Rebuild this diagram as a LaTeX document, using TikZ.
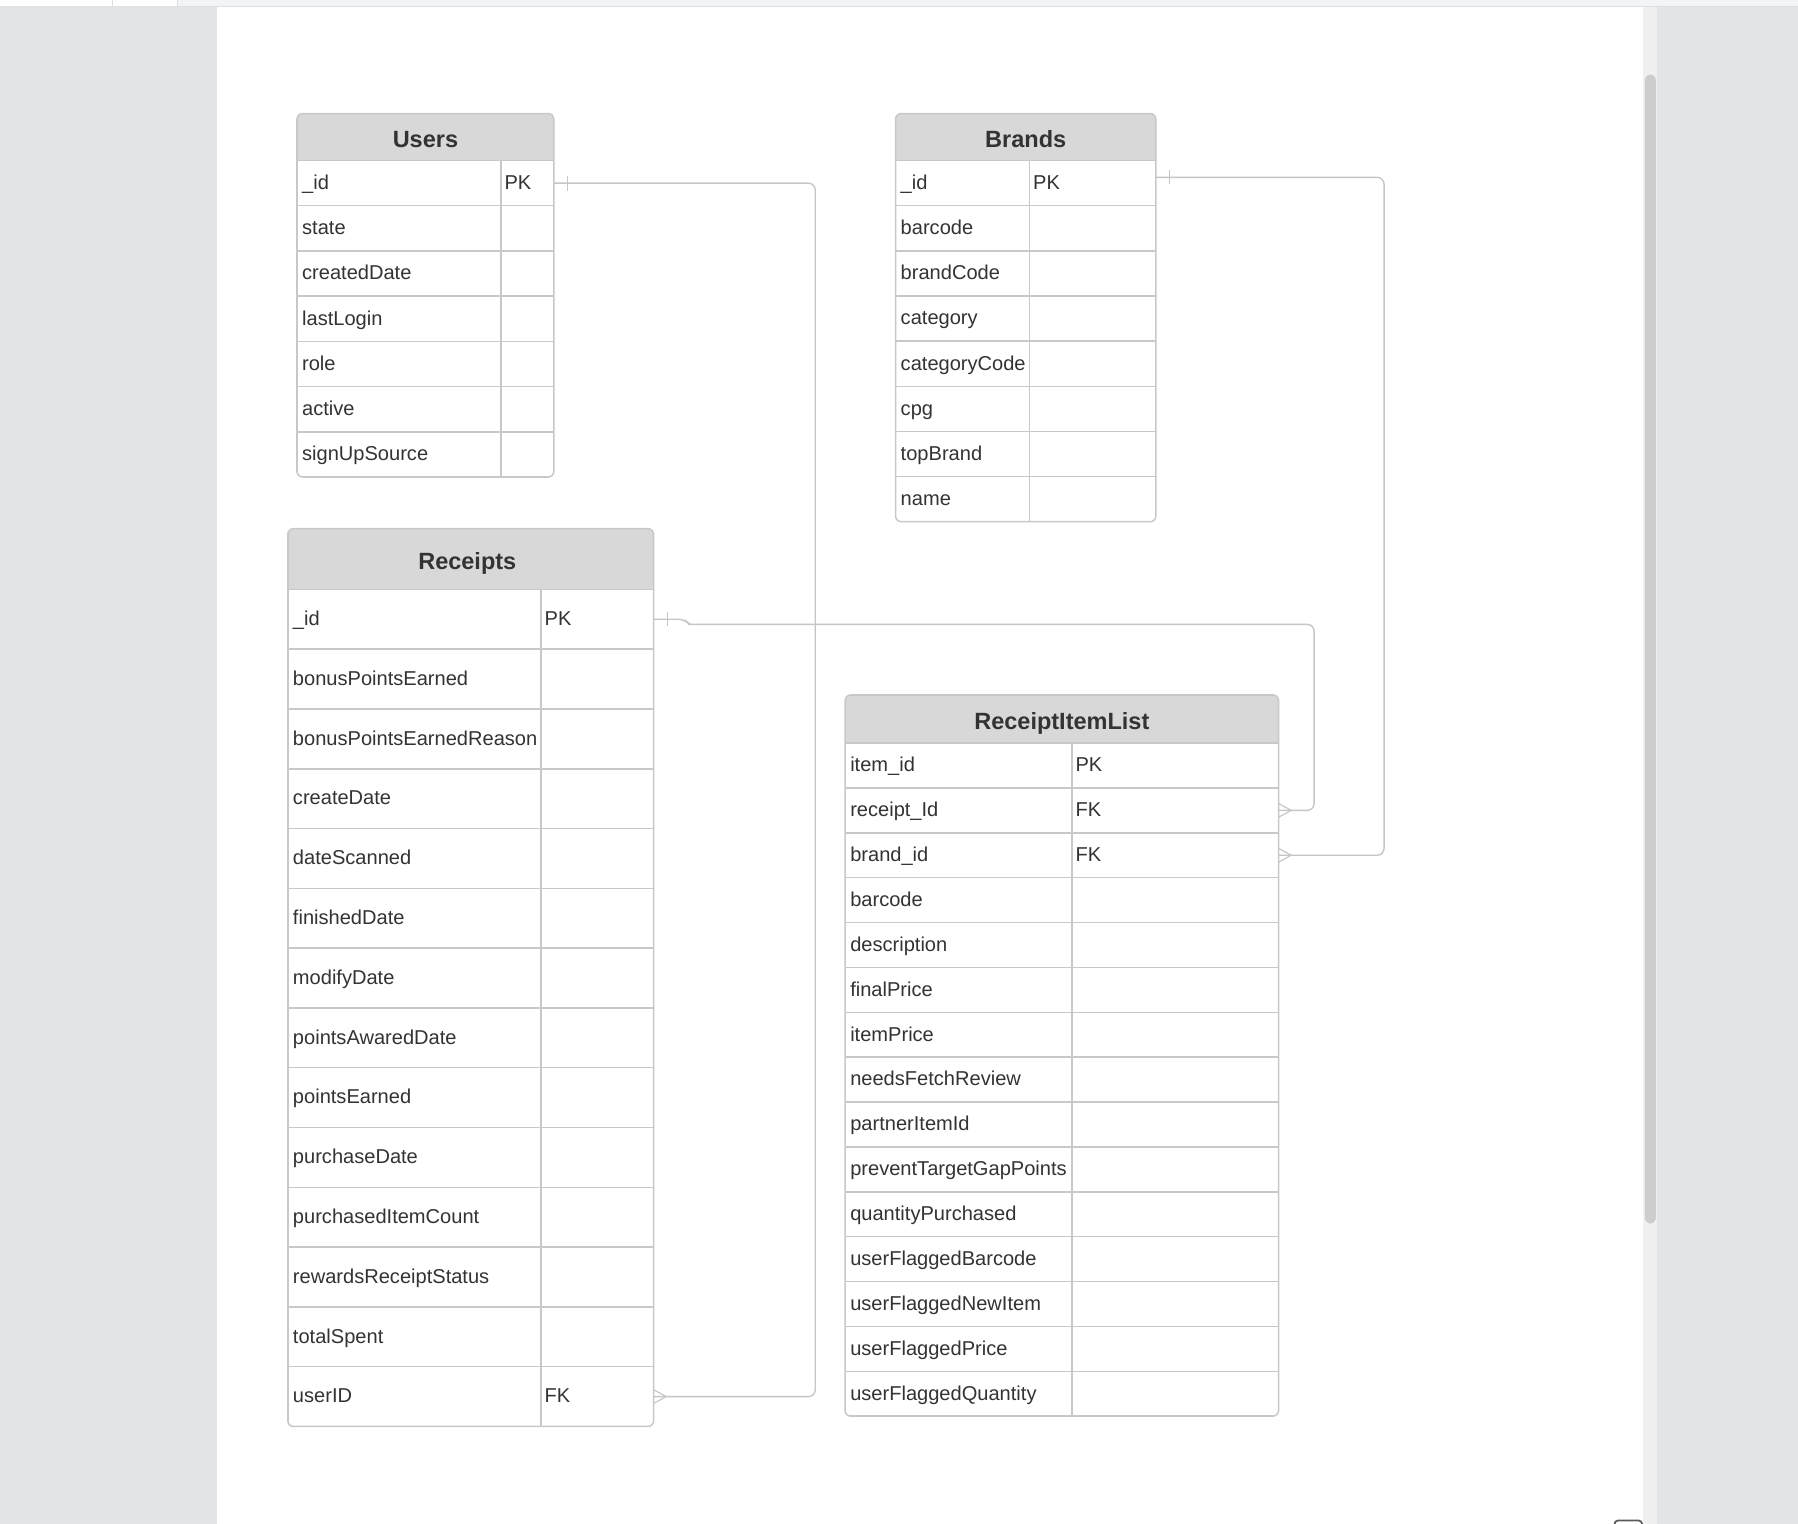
\documentclass[tikz,border=0pt]{standalone}
\usepackage{fontspec}
\setmainfont{Liberation Sans}
\definecolor{panelgray}{HTML}{E3E4E6}
\definecolor{stripgray}{HTML}{F3F4F6}
\definecolor{stripline}{HTML}{DEDFE1}
\definecolor{trackgray}{HTML}{F0F0F0}
\definecolor{thumbgray}{HTML}{CDCDCD}
\definecolor{gridgray}{HTML}{C8C8C8}
\definecolor{headgray}{HTML}{D8D8D8}
\definecolor{inkgray}{HTML}{333333}
\definecolor{linkgray}{HTML}{C6C6C6}
\newcommand{\erfieldfont}{\fontsize{17.5}{21}\selectfont\hyphenpenalty=10000 }
\newcommand{\erheadfont}{\fontsize{20.5}{24}\selectfont\bfseries}
\tikzset{
  headcell/.style={draw=gridgray, line width=1.3pt, fill=headgray, anchor=north west, outer sep=0pt, inner sep=0pt, text height=18pt, text depth=0.5pt, font=\erheadfont, text=inkgray},
  fieldcell/.style={draw=gridgray, line width=1.3pt, fill=white, anchor=north west, outer sep=0pt, inner xsep=4.5pt, inner ysep=0pt, text width=#1, align=left, text height=14pt, text depth=3pt, font=\erfieldfont, text=inkgray},
  keycell/.style={fieldcell=#1, inner xsep=3pt},
  tableframe/.style={draw=gridgray, line width=1.3pt, rounded corners=5pt},
  relline/.style={draw=linkgray, line width=1.2pt, rounded corners=6pt},
  tickline/.style={draw=linkgray, line width=1pt}
}
\begin{document}
\begin{tikzpicture}[x=1pt, y=-1pt,
  usersfield/.style={fieldcell=169pt, minimum height=39.43pt},
  userskey/.style={keycell=40pt, minimum height=39.43pt},
  brandsfield/.style={fieldcell=108pt, minimum height=39.375pt},
  brandskey/.style={keycell=104pt, minimum height=39.375pt},
  receiptsfield/.style={fieldcell=212pt, minimum height=52.14pt},
  receiptskey/.style={keycell=92pt, minimum height=52.14pt},
  itemsfield/.style={fieldcell=189pt, minimum height=39.13pt},
  itemskey/.style={keycell=174pt, minimum height=39.13pt}]
\useasboundingbox (0,0) rectangle (1568,1329);
% page, toolbar and scroll bar
\fill[panelgray] (0,0) rectangle (1568,1329);
\fill[white] (189,6) rectangle (1433,1329);
\fill[trackgray] (1433,6) rectangle (1445,1329);
\fill[thumbgray, rounded corners=5pt] (1434.5,65) rectangle (1444,1067);
\fill[white] (0,0) rectangle (155,5.5);
\fill[stripgray] (155,0) rectangle (1568,5.5);
\draw[stripline, line width=1.2pt] (0,5.8) -- (1568,5.8);
\draw[stripline, line width=1pt] (98,0) -- (98,5.5);
\draw[stripline, line width=1pt] (155,0) -- (155,5.5);
\draw[black!65, line width=1.5pt, rounded corners=3pt] (1408,1326) rectangle (1432,1345);

% Users
\begin{scope}
\clip[rounded corners=5pt] (259,99) rectangle (483,416);
\node[headcell, minimum width=224pt, minimum height=41pt] (users) at (259,99) {Users};
\node[usersfield] (users-f1) at (259,140.00) {\_id};
\node[userskey] (users-k1) at (437,140.00) {PK};
\node[usersfield] (users-f2) at (259,179.43) {state};
\node[userskey] (users-k2) at (437,179.43) {};
\node[usersfield] (users-f3) at (259,218.86) {createdDate};
\node[userskey] (users-k3) at (437,218.86) {};
\node[usersfield] (users-f4) at (259,258.29) {lastLogin};
\node[userskey] (users-k4) at (437,258.29) {};
\node[usersfield] (users-f5) at (259,297.71) {role};
\node[userskey] (users-k5) at (437,297.71) {};
\node[usersfield] (users-f6) at (259,337.14) {active};
\node[userskey] (users-k6) at (437,337.14) {};
\node[usersfield] (users-f7) at (259,376.57) {signUpSource};
\node[userskey] (users-k7) at (437,376.57) {};
\end{scope}
\draw[tableframe] (259,99) rectangle (483,416);

% Brands
\begin{scope}
\clip[rounded corners=5pt] (781,99) rectangle (1008,455);
\node[headcell, minimum width=227pt, minimum height=41pt] (brands) at (781,99) {Brands};
\node[brandsfield] (brands-f1) at (781,140.000) {\_id};
\node[brandskey] (brands-k1) at (898,140.000) {PK};
\node[brandsfield] (brands-f2) at (781,179.375) {barcode};
\node[brandskey] (brands-k2) at (898,179.375) {};
\node[brandsfield] (brands-f3) at (781,218.750) {brandCode};
\node[brandskey] (brands-k3) at (898,218.750) {};
\node[brandsfield] (brands-f4) at (781,258.125) {category};
\node[brandskey] (brands-k4) at (898,258.125) {};
\node[brandsfield] (brands-f5) at (781,297.500) {categoryCode};
\node[brandskey] (brands-k5) at (898,297.500) {};
\node[brandsfield] (brands-f6) at (781,336.875) {cpg};
\node[brandskey] (brands-k6) at (898,336.875) {};
\node[brandsfield] (brands-f7) at (781,376.250) {topBrand};
\node[brandskey] (brands-k7) at (898,376.250) {};
\node[brandsfield] (brands-f8) at (781,415.625) {name};
\node[brandskey] (brands-k8) at (898,415.625) {};
\end{scope}
\draw[tableframe] (781,99) rectangle (1008,455);

% Receipts
\begin{scope}
\clip[rounded corners=5pt] (251,461) rectangle (570,1244);
\node[headcell, minimum width=319pt, minimum height=53pt] (receipts) at (251,461) {Receipts\kern6pt};
\node[receiptsfield] (receipts-f1) at (251,514.00) {\_id};
\node[receiptskey] (receipts-k1) at (472,514.00) {PK};
\node[receiptsfield] (receipts-f2) at (251,566.14) {bonusPointsEarned};
\node[receiptskey] (receipts-k2) at (472,566.14) {};
\node[receiptsfield] (receipts-f3) at (251,618.29) {bonusPointsEarnedReason};
\node[receiptskey] (receipts-k3) at (472,618.29) {};
\node[receiptsfield] (receipts-f4) at (251,670.43) {createDate};
\node[receiptskey] (receipts-k4) at (472,670.43) {};
\node[receiptsfield] (receipts-f5) at (251,722.57) {dateScanned};
\node[receiptskey] (receipts-k5) at (472,722.57) {};
\node[receiptsfield] (receipts-f6) at (251,774.71) {finishedDate};
\node[receiptskey] (receipts-k6) at (472,774.71) {};
\node[receiptsfield] (receipts-f7) at (251,826.86) {modifyDate};
\node[receiptskey] (receipts-k7) at (472,826.86) {};
\node[receiptsfield] (receipts-f8) at (251,879.00) {pointsAwaredDate};
\node[receiptskey] (receipts-k8) at (472,879.00) {};
\node[receiptsfield] (receipts-f9) at (251,931.14) {pointsEarned};
\node[receiptskey] (receipts-k9) at (472,931.14) {};
\node[receiptsfield] (receipts-f10) at (251,983.29) {purchaseDate};
\node[receiptskey] (receipts-k10) at (472,983.29) {};
\node[receiptsfield] (receipts-f11) at (251,1035.43) {purchasedItemCount};
\node[receiptskey] (receipts-k11) at (472,1035.43) {};
\node[receiptsfield] (receipts-f12) at (251,1087.57) {rewardsReceiptStatus};
\node[receiptskey] (receipts-k12) at (472,1087.57) {};
\node[receiptsfield] (receipts-f13) at (251,1139.71) {totalSpent};
\node[receiptskey] (receipts-k13) at (472,1139.71) {};
\node[receiptsfield] (receipts-f14) at (251,1191.86) {userID};
\node[receiptskey] (receipts-k14) at (472,1191.86) {FK};
\end{scope}
\draw[tableframe] (251,461) rectangle (570,1244);

% ReceiptItemList
\begin{scope}
\clip[rounded corners=5pt] (737,606) rectangle (1115,1235);
\node[headcell, minimum width=378pt, minimum height=42pt] (items) at (737,606) {ReceiptItemList};
\node[itemsfield] (items-f1) at (737,648.00) {item\_id};
\node[itemskey] (items-k1) at (935,648.00) {PK};
\node[itemsfield] (items-f2) at (737,687.13) {receipt\_Id};
\node[itemskey] (items-k2) at (935,687.13) {FK};
\node[itemsfield] (items-f3) at (737,726.27) {brand\_id};
\node[itemskey] (items-k3) at (935,726.27) {FK};
\node[itemsfield] (items-f4) at (737,765.40) {barcode};
\node[itemskey] (items-k4) at (935,765.40) {};
\node[itemsfield] (items-f5) at (737,804.53) {description};
\node[itemskey] (items-k5) at (935,804.53) {};
\node[itemsfield] (items-f6) at (737,843.67) {finalPrice};
\node[itemskey] (items-k6) at (935,843.67) {};
\node[itemsfield] (items-f7) at (737,882.80) {itemPrice};
\node[itemskey] (items-k7) at (935,882.80) {};
\node[itemsfield] (items-f8) at (737,921.93) {needsFetchReview};
\node[itemskey] (items-k8) at (935,921.93) {};
\node[itemsfield] (items-f9) at (737,961.07) {partnerItemId};
\node[itemskey] (items-k9) at (935,961.07) {};
\node[itemsfield] (items-f10) at (737,1000.20) {preventTargetGapPoints};
\node[itemskey] (items-k10) at (935,1000.20) {};
\node[itemsfield] (items-f11) at (737,1039.33) {quantityPurchased};
\node[itemskey] (items-k11) at (935,1039.33) {};
\node[itemsfield] (items-f12) at (737,1078.47) {userFlaggedBarcode};
\node[itemskey] (items-k12) at (935,1078.47) {};
\node[itemsfield] (items-f13) at (737,1117.60) {userFlaggedNewItem};
\node[itemskey] (items-k13) at (935,1117.60) {};
\node[itemsfield] (items-f14) at (737,1156.73) {userFlaggedPrice};
\node[itemskey] (items-k14) at (935,1156.73) {};
\node[itemsfield] (items-f15) at (737,1195.87) {userFlaggedQuantity};
\node[itemskey] (items-k15) at (935,1195.87) {};
\end{scope}
\draw[tableframe] (737,606) rectangle (1115,1235);

% relations
\coordinate (userbus) at (711,0);
\coordinate (brandbus) at (1207,0);
\coordinate (receiptjog) at (601,544.5);
\coordinate (receiptbus) at (1146,544.5);
\draw[relline] (users-k1.east) -- (users-k1.east -| userbus) |- (receipts-k14.east);
\draw[relline] ([yshift=5pt]brands-k1.east) -| (brandbus |- items-k3.east) -- (items-k3.east);
\draw[relline] (receipts-k1.east) -- ([xshift=-3pt]receiptjog |- receipts-k1.east) [rounded corners=2pt]-- (receiptjog) [rounded corners=6pt]-- (receiptbus) |- (items-k2.east);

% one ends
\draw[tickline] ([xshift=12pt,yshift=-6.5pt]users-k1.east) -- ([xshift=12pt,yshift=6.5pt]users-k1.east);
\draw[tickline] ([xshift=12pt,yshift=-1pt]brands-k1.east) -- ([xshift=12pt,yshift=11pt]brands-k1.east);
\draw[tickline] ([xshift=12pt,yshift=-6pt]receipts-k1.east) -- ([xshift=12pt,yshift=6pt]receipts-k1.east);
% many ends
\draw[tickline] ([yshift=6pt]receipts-k14.east) -- ([xshift=11pt]receipts-k14.east) -- ([yshift=-6pt]receipts-k14.east);
\draw[tickline] ([yshift=6pt]items-k2.east) -- ([xshift=11pt]items-k2.east) -- ([yshift=-6pt]items-k2.east);
\draw[tickline] ([yshift=6pt]items-k3.east) -- ([xshift=11pt]items-k3.east) -- ([yshift=-6pt]items-k3.east);
\end{tikzpicture}
\end{document}
